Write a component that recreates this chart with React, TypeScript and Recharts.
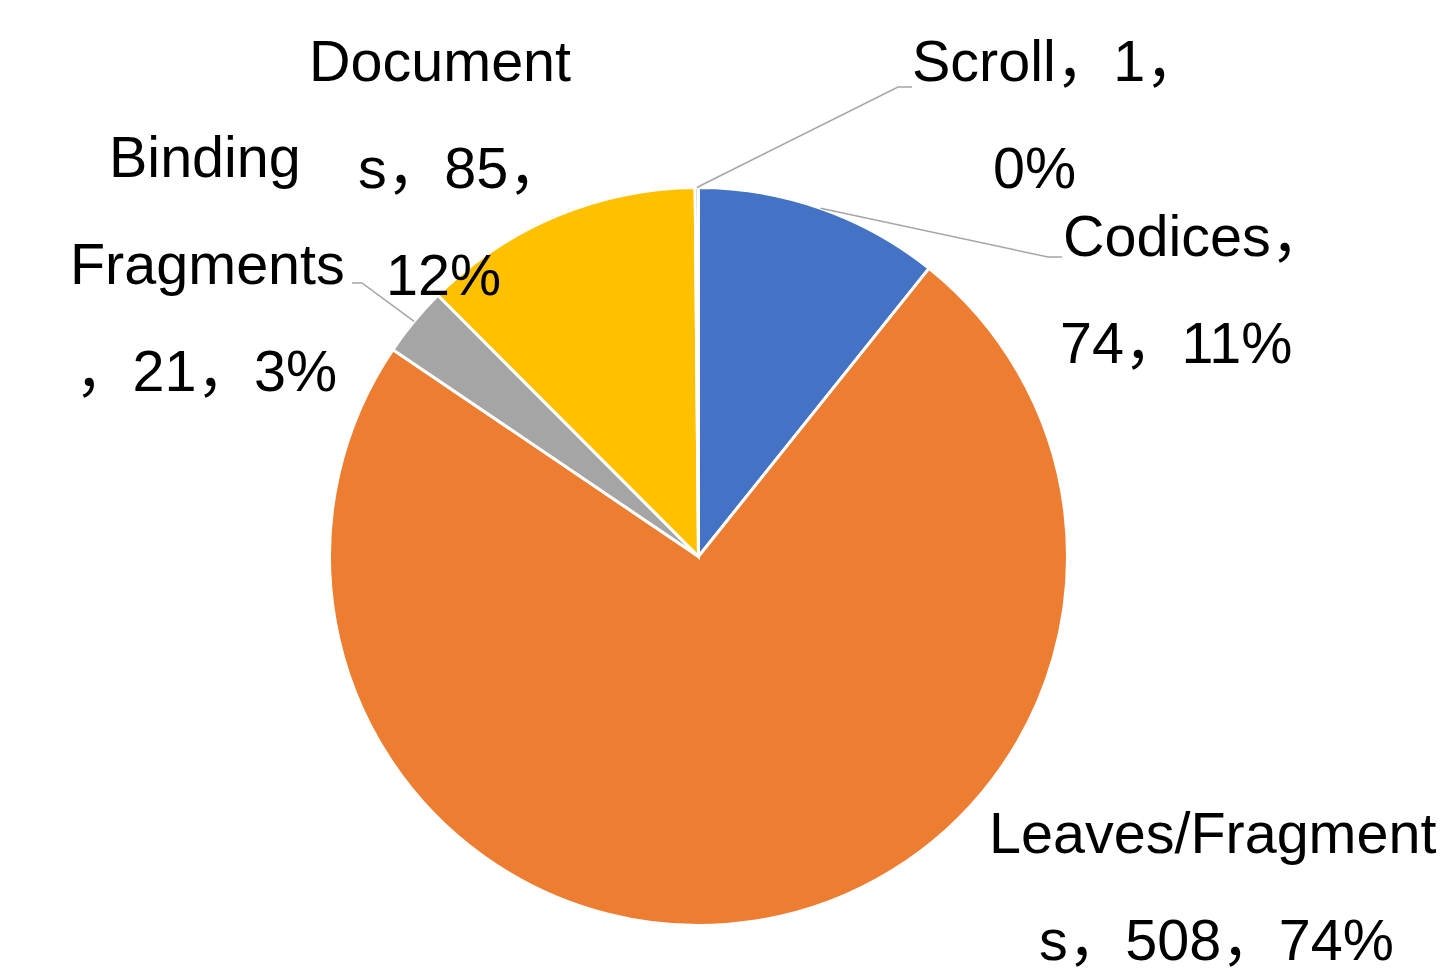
import { PieChart, Pie, Cell } from "recharts"

const categories = ["Codices", "Leaves/Fragments", "Binding Fragments", "Documents", "Scroll"]
const counts = [74, 508, 21, 85, 1]
const colors = ["#4472C4", "#ED7D31", "#A5A5A5", "#FFC000", "#5B9BD5"]

// where the label text wraps (character offsets) and where its lines sit
const labelBreaks = [[8], [15], [7, 17], [8, 13], [9]]
const labelLineX = [[1063, 1060], [989, 1039], [109, 70, 75], [309, 358, 386], [912, 993]]
const labelTopY = [256, 853, 177, 81, 81]
// leader line: elbow x, elbow y, end x (null = no leader)
const leaders: Array<[number, number, number] | null> = [
	[1048, 257, 1062],
	null,
	[362, 283, 352],
	null,
	[898, 87, 912],
]

const data = categories.map((name, i) => ({ name, value: counts[i] }))

const FONT = "'Liberation Sans', Arial, sans-serif"
const CJK_FONT = "'Noto Sans CJK SC', sans-serif"
const LINE_HEIGHT = 107
const RADIAN = Math.PI / 180

const splitLines = (text: string, breaks: number[]) => {
	const out: string[] = []
	let prev = 0
	for (const b of breaks) {
		out.push(text.slice(prev, b).trim())
		prev = b
	}
	out.push(text.slice(prev).trim())
	return out
}

// full-width commas come from the CJK font, the rest stays in Arial
const renderRuns = (line: string) =>
	line.split(/(，)/).filter(Boolean).map((part, k) =>
		part === "，" ? (
			<tspan key={k} fontFamily={CJK_FONT}>{part}</tspan>
		) : (
			<tspan key={k}>{part}</tspan>
		)
	)

const renderLabel = (props: any) => {
	const { cx, cy, midAngle, outerRadius, percent, index, value } = props
	const text = `${categories[index]}，${value}，${Math.round(percent * 100)}%`
	const lines = splitLines(text, labelBreaks[index])
	const leader = leaders[index]
	const sx = cx + outerRadius * Math.cos(-midAngle * RADIAN)
	const sy = cy + outerRadius * Math.sin(-midAngle * RADIAN)
	return (
		<g key={`lbl-${index}`}>
			{leader && (
				<polyline
					points={`${sx},${sy} ${leader[0]},${leader[1]} ${leader[2]},${leader[1]}`}
					fill="none"
					stroke="#A5A5A5"
					strokeWidth={1.5}
				/>
			)}
			{lines.map((ln, j) => (
				<text
					key={j}
					x={labelLineX[index][j]}
					y={labelTopY[index] + j * LINE_HEIGHT}
					fill="#000"
					fontSize={57.5}
					fontFamily={FONT}
					textAnchor="start"
				>
					{renderRuns(ln)}
				</text>
			))}
		</g>
	)
}

export default function App() {
	return (
		<div style={{ position: "absolute", left: 0, top: 0, width: 1455, height: 975, background: "#fff" }}>
			<PieChart width={1455} height={975} margin={{ top: 0, right: 0, bottom: 0, left: 0 }}>
				<Pie
					data={data}
					dataKey="value"
					nameKey="name"
					cx={698.5}
					cy={556.5}
					outerRadius={369}
					startAngle={90}
					endAngle={-270}
					stroke="#fff"
					strokeWidth={3}
					label={renderLabel}
					labelLine={false}
					isAnimationActive={false}
				>
					{data.map((d, i) => (
						<Cell key={d.name} fill={colors[i]} />
					))}
				</Pie>
			</PieChart>
		</div>
	)
}
